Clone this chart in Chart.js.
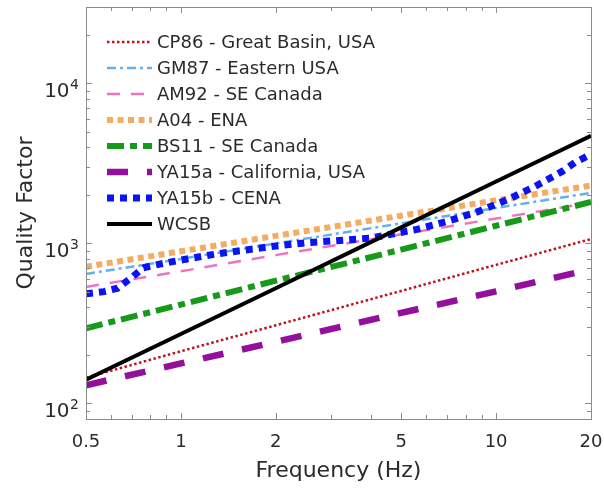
<!DOCTYPE html>
<html>
<head>
<meta charset="utf-8">
<script src="https://cdn.jsdelivr.net/npm/chart.js@4.4.1/dist/chart.umd.min.js"></script>
<style>
  html, body { margin: 0; padding: 0; background: #fff; }
  #qChart { display: block; }
</style>
</head>
<body>
<canvas id="qChart" width="604" height="491"></canvas>
<script>
// attenuation models, Q(f)
const seriesNames = [
  'CP86 - Great Basin, USA',
  'GM87 - Eastern USA',
  'AM92 - SE Canada',
  'A04 - ENA',
  'BS11 - SE Canada',
  'YA15a - California, USA',
  'YA15b - CENA',
  'WCSB'
];

const freqTicks = [0.5, 1, 2, 5, 10, 20];
const qTicks = [100, 1000, 10000];

// straight (power-law) curves sampled at the tick frequencies
const lineFreq = [0.5, 1, 2, 5, 10, 20];
const cp86Q = [145, 212, 308, 505, 735, 1065];
const gm87Q = [645, 800, 1000, 1335, 1665, 2070];
const am92Q = [535, 670, 845, 1140, 1430, 1800];
const a04Q = [715, 893, 1115, 1490, 1860, 2300];
const bs11Q = [295, 415, 585, 915, 1290, 1815];
const ya15aQ = [130, 178, 243, 368, 502, 690];
const wcsbQ = [141, 272, 525, 1260, 2435, 4700];

// YA15b is not a single power law
const ya15bFreq = [0.5, 0.57, 0.63, 0.7, 0.76, 0.85, 0.95, 1.07, 1.33, 1.65, 2.06, 2.56, 3.2, 4, 4.6, 5.6, 7, 8.8, 10.9, 13.3, 16.2, 17.8, 20];
const ya15bQ = [485, 500, 525, 615, 705, 740, 772, 806, 866, 917, 971, 1014, 1044, 1080, 1138, 1223, 1373, 1585, 1884, 2270, 2818, 3206, 3600];

const seriesFreq = [lineFreq, lineFreq, lineFreq, lineFreq, lineFreq, lineFreq, ya15bFreq, lineFreq];
const seriesQ = [cp86Q, gm87Q, am92Q, a04Q, bs11Q, ya15aQ, ya15bQ, wcsbQ];

const colors = ['#c0121c', '#62b0ef', '#ef74c0', '#f4ab62', '#17991a', '#930f9c', '#0a14f2', '#000000'];
const widths = [2.5, 2.5, 2.5, 6, 6, 6.5, 7, 4];
const dashes = [[2.5, 2.5], [9, 4, 3, 4], [13, 11], [6, 4.5], [17, 6, 7, 6], [21, 19], [7, 6], []];

const FONT = '"DejaVu Sans", "Liberation Sans", Arial, sans-serif';
const TEXT = '#2b2b2b';
const AXIS = '#8c8c8c';

const xMinor = [0.6, 0.7, 0.8, 0.9, 3, 4, 6, 7, 8, 9];
const yMinor = [90, 200, 300, 400, 500, 600, 700, 800, 900, 2000, 3000, 4000, 5000, 6000, 7000, 8000, 9000, 20000];

const datasets = seriesNames.map((name, i) => ({
  label: name,
  data: seriesFreq[i].map((f, j) => ({ x: f, y: seriesQ[i][j] })),
  borderColor: colors[i],
  backgroundColor: colors[i],
  borderWidth: widths[i],
  borderDash: dashes[i],
  borderCapStyle: 'butt',
  borderJoinStyle: 'miter',
  showLine: true,
  pointRadius: 0,
  fill: false,
  tension: 0,
  order: seriesNames.length - i
}));

// box, inward ticks, y labels with exponents, legend
const matlabAxes = {
  id: 'matlabAxes',
  afterDraw(chart) {
    const ctx = chart.ctx;
    const a = chart.chartArea;
    const xs = chart.scales.x, ys = chart.scales.y;
    ctx.save();
    ctx.strokeStyle = AXIS;
    ctx.lineWidth = 1;
    ctx.setLineDash([]);
    ctx.strokeRect(Math.round(a.left) + 0.5, Math.round(a.top) + 0.5,
      Math.round(a.right - a.left), Math.round(a.bottom - a.top));

    ctx.beginPath();
    const tickX = (v, len) => {
      const px = Math.round(xs.getPixelForValue(v)) + 0.5;
      ctx.moveTo(px, a.bottom); ctx.lineTo(px, a.bottom - len);
      ctx.moveTo(px, a.top); ctx.lineTo(px, a.top + len);
    };
    const tickY = (v, len) => {
      const py = Math.round(ys.getPixelForValue(v)) + 0.5;
      ctx.moveTo(a.left, py); ctx.lineTo(a.left + len, py);
      ctx.moveTo(a.right, py); ctx.lineTo(a.right - len, py);
    };
    freqTicks.forEach(v => tickX(v, 6));
    xMinor.forEach(v => tickX(v, 4));
    qTicks.forEach(v => tickY(v, 6));
    yMinor.forEach(v => tickY(v, 4));
    ctx.stroke();

    // 10^n labels
    ctx.fillStyle = TEXT;
    qTicks.forEach(v => {
      const py = ys.getPixelForValue(v);
      const exp = String(Math.round(Math.log10(v)));
      const right = a.left - 7;
      ctx.font = '14px ' + FONT;
      const ew = ctx.measureText(exp).width;
      ctx.textAlign = 'left';
      ctx.textBaseline = 'alphabetic';
      ctx.fillText(exp, right - ew, py + 6);
      ctx.font = '20px ' + FONT;
      ctx.textAlign = 'right';
      ctx.fillText('10', right - ew - 0.5, py + 14);
    });

    // legend
    ctx.font = '18px ' + FONT;
    ctx.textAlign = 'left';
    ctx.textBaseline = 'middle';
    chart.data.datasets.forEach((ds, i) => {
      const ly = 42 + i * 26;
      ctx.beginPath();
      ctx.strokeStyle = ds.borderColor;
      ctx.lineWidth = ds.borderWidth;
      ctx.lineCap = 'butt';
      ctx.setLineDash(ds.borderDash);
      ctx.moveTo(107, ly);
      ctx.lineTo(152, ly);
      ctx.stroke();
      ctx.setLineDash([]);
      ctx.fillStyle = TEXT;
      ctx.fillText(ds.label, 157, ly + 1);
    });
    ctx.restore();
  }
};

new Chart(document.getElementById('qChart'), {
  type: 'scatter',
  data: { datasets },
  options: {
    responsive: false,
    animation: false,
    layout: { padding: { top: 7, right: 13, left: 0, bottom: 0 } },
    plugins: {
      legend: { display: false },
      tooltip: { enabled: false }
    },
    scales: {
      x: {
        type: 'logarithmic',
        min: 0.5,
        max: 20,
        afterBuildTicks: s => { s.ticks = freqTicks.map(v => ({ value: v })); },
        afterFit: s => { s.height = 72; s.paddingLeft = 0; s.paddingRight = 0; },
        grid: { display: false, drawTicks: false },
        border: { display: false },
        ticks: {
          font: { family: FONT, size: 18 },
          color: TEXT,
          padding: 13,
          maxRotation: 0,
          autoSkip: false,
          callback: v => String(v)
        },
        title: {
          display: true,
          text: 'Frequency (Hz)',
          font: { family: FONT, size: 22 },
          color: TEXT,
          padding: { top: 0, bottom: 7 }
        }
      },
      y: {
        type: 'logarithmic',
        min: 80,
        max: 30000,
        afterBuildTicks: s => { s.ticks = qTicks.map(v => ({ value: v })); },
        afterFit: s => { s.width = 86; s.paddingTop = 0; s.paddingBottom = 0; },
        grid: { display: false, drawTicks: false },
        border: { display: false },
        ticks: { display: false },
        title: {
          display: true,
          text: 'Quality Factor',
          font: { family: FONT, size: 22 },
          color: TEXT,
          padding: { top: 13, bottom: 0 }
        }
      }
    }
  },
  plugins: [matlabAxes]
});
</script>
</body>
</html>
